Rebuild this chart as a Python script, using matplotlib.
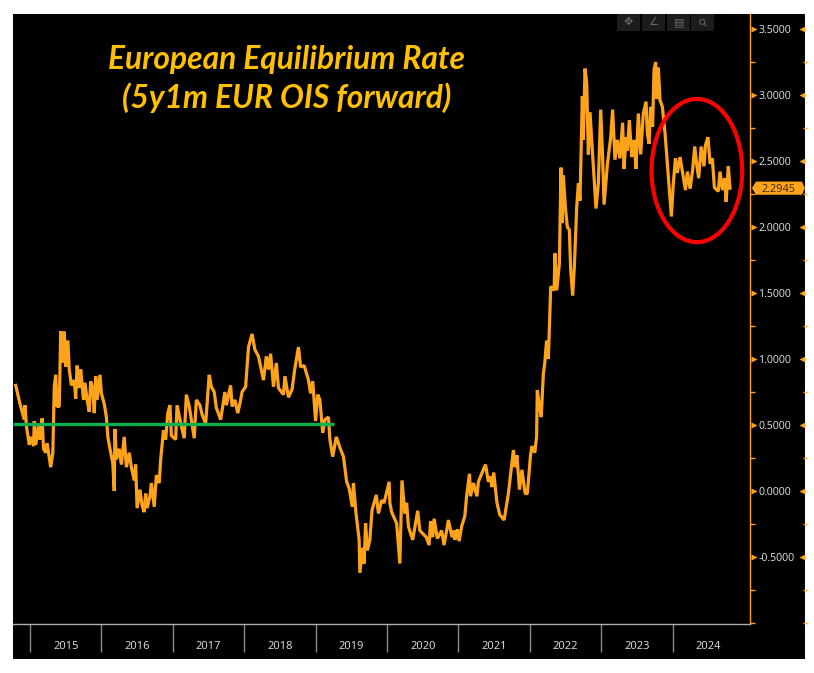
import matplotlib
matplotlib.use("Agg")
import matplotlib.pyplot as plt
from matplotlib.patches import Ellipse, Polygon, Rectangle

W, H = 814, 673
ORANGE = "#FFA31A"

dates = [
 2014.80,2014.86,2014.92,2014.93,2014.95,2014.99,2015.01,2015.05,2015.06,2015.08,2015.12,2015.14,2015.17,2015.19,
 2015.22,2015.24,2015.29,2015.32,2015.34,2015.36,2015.38,2015.41,2015.43,2015.45,2015.48,2015.50,2015.53,2015.55,
 2015.58,2015.62,2015.64,2015.66,2015.69,2015.71,2015.75,2015.77,2015.80,2015.83,2015.85,2015.88,2015.90,2015.92,
 2015.94,2015.98,2016.00,2016.04,2016.07,2016.09,2016.12,2016.16,2016.18,2016.19,2016.21,2016.25,2016.28,2016.32,
 2016.35,2016.39,2016.42,2016.46,2016.48,2016.50,2016.54,2016.57,2016.60,2016.62,2016.64,2016.68,2016.70,2016.74,
 2016.77,2016.81,2016.83,2016.87,2016.90,2016.93,2016.96,2016.98,2017.04,2017.06,2017.10,2017.12,2017.16,2017.19,
 2017.23,2017.26,2017.30,2017.33,2017.38,2017.41,2017.46,2017.51,2017.54,2017.58,2017.61,2017.67,2017.73,2017.75,
 2017.81,2017.83,2017.87,2017.91,2017.95,2017.97,2018.02,2018.06,2018.11,2018.15,2018.20,2018.27,2018.31,2018.34,
 2018.37,2018.41,2018.45,2018.48,2018.55,2018.57,2018.62,2018.67,2018.71,2018.76,2018.79,2018.84,2018.90,2018.93,
 2018.96,2019.00,2019.03,2019.06,2019.10,2019.13,2019.18,2019.20,2019.24,2019.29,2019.34,
 2019.39,2019.435,2019.47,2019.515,2019.53,2019.566,2019.61,2019.62,2019.66,2019.68,2019.70,2019.725,2019.76,2019.79,
 2019.85,2019.88,2019.925,2019.96,2020.03,2020.04,2020.065,2020.135,2020.18,2020.21,2020.25,2020.275,2020.30,2020.36,
 2020.43,2020.46,2020.55,2020.59,2020.61,2020.64,2020.66,2020.705,2020.765,2020.80,2020.86,2020.91,2020.94,2020.95,
 2020.985,2021.01,2021.045,2021.09,2021.115,2021.155,2021.17,2021.21,2021.26,2021.28,2021.34,2021.38,2021.42,2021.45,
 2021.47,2021.495,2021.54,2021.58,2021.64,2021.70,2021.77,2021.795,2021.82,2021.855,2021.89,2021.935,2021.965,2022.01,
 2022.03,2022.07,2022.095,2022.105,2022.13,2022.16,2022.19,2022.21,2022.235,2022.26,
 2022.283,2022.293,2022.34,2022.353,2022.377,2022.414,2022.437,2022.45,2022.47,2022.498,2022.526,2022.554,2022.573,2022.60,
 2022.624,2022.657,2022.68,2022.703,2022.736,2022.75,2022.773,2022.797,2022.82,2022.843,2022.913,2022.927,2022.96,2022.993,
 2023.02,2023.04,2023.086,2023.133,2023.16,2023.193,2023.226,2023.263,2023.30,2023.32,2023.347,2023.366,2023.394,2023.427,
 2023.46,2023.487,2023.52,2023.553,2023.59,2023.628,2023.646,2023.67,2023.693,2023.72,2023.74,2023.763,2023.777,2023.80,
 2023.824,2023.857,2023.894,2023.926,2023.955,2023.983,2024.01,2024.04,2024.066,2024.104,2024.14,2024.18,2024.207,2024.245,
 2024.28,2024.31,2024.336,2024.365,2024.40,2024.44,2024.46,2024.495,2024.525,2024.557,2024.585,2024.64,2024.664,2024.70,
 2024.73,2024.75,2024.78,2024.804,
]
rates = [
 0.80,0.66,0.54,0.65,0.49,0.35,0.41,0.34,0.53,0.35,0.49,0.39,0.55,0.32,
 0.29,0.36,0.18,0.29,0.79,0.88,0.64,0.64,1.21,0.97,1.21,0.94,1.14,0.92,
 0.80,0.84,0.70,0.95,0.78,0.92,0.69,0.82,0.69,0.60,0.83,0.77,0.59,0.87,
 0.69,0.88,0.74,0.66,0.56,0.41,0.32,0.21,0.00,0.47,0.24,0.32,0.20,0.41,
 0.18,0.29,0.18,0.08,0.20,-0.13,0.01,-0.11,-0.16,-0.02,-0.13,-0.04,0.06,-0.12,
 0.12,0.06,0.24,0.46,0.39,0.59,0.65,0.42,0.39,0.65,0.54,0.49,0.40,0.73,
 0.64,0.54,0.40,0.69,0.65,0.58,0.51,0.88,0.79,0.75,0.63,0.54,0.75,0.65,
 0.80,0.64,0.69,0.59,0.69,0.75,0.79,1.09,1.19,1.07,1.02,0.84,1.02,0.92,
 1.04,0.79,0.97,0.78,0.73,0.87,0.71,0.77,0.93,1.09,0.94,0.95,0.84,0.74,
 0.83,0.53,0.73,0.69,0.44,0.54,0.56,0.39,0.26,0.41,0.33,
 0.26,0.07,0.02,-0.12,0.06,-0.17,-0.37,-0.62,-0.43,-0.55,-0.245,-0.45,-0.37,-0.145,
 -0.03,-0.17,-0.07,-0.09,0.07,-0.09,-0.16,-0.245,-0.55,0.08,-0.17,-0.09,-0.27,-0.37,
 -0.15,-0.30,-0.35,-0.41,-0.23,-0.35,-0.21,-0.36,-0.30,-0.41,-0.22,-0.35,-0.30,-0.37,
 -0.29,-0.38,-0.27,-0.19,-0.04,0.13,-0.04,0.06,-0.04,0.07,0.15,0.20,0.07,0.11,
 0.03,0.14,-0.09,-0.18,-0.22,-0.02,0.31,0.18,0.27,0.01,0.16,-0.02,-0.02,0.27,
 0.34,0.29,0.41,0.765,0.66,0.56,0.89,0.97,1.14,1.00,
 1.38,1.55,1.52,1.80,1.52,1.72,2.45,2.03,2.39,2.15,2.00,1.98,1.67,1.48,
 1.70,2.15,2.33,2.20,2.99,2.66,3.20,3.09,2.55,2.87,2.26,2.14,2.33,2.89,
 2.53,2.17,2.47,2.68,2.89,2.51,2.66,2.52,2.79,2.44,2.68,2.58,2.81,2.53,
 2.66,2.44,2.86,2.55,2.86,2.95,2.71,2.63,2.91,2.76,3.19,3.25,2.97,3.21,
 2.96,2.91,2.71,2.48,2.28,2.08,2.33,2.52,2.41,2.53,2.41,2.28,2.42,2.29,
 2.43,2.61,2.48,2.37,2.61,2.46,2.62,2.68,2.48,2.52,2.30,2.27,2.42,2.28,
 2.37,2.19,2.46,2.2945,
]
last_value = 2.2945
year_labels = ["2015","2016","2017","2018","2019","2020","2021","2022","2023","2024"]
year_starts = [2015,2016,2017,2018,2019,2020,2021,2022,2023,2024,2025]
y_major = [-0.5,0.0,0.5,1.0,1.5,2.0,2.5,3.0,3.5]
y_minor = [-1.0,-0.75,-0.25,0.25,0.75,1.25,1.75,2.25,2.75,3.25]
equilibrium = 0.51
title_text = "European Equilibrium Rate\n(5y1m EUR OIS forward)"

def fx(p): return p / W
def fy(p): return 1 - p / H

fig = plt.figure(figsize=(W/100, H/100), dpi=100, facecolor="white")
fig.add_artist(Rectangle((fx(13), fy(659)), 792/W, 645/H, transform=fig.transFigure,
                         facecolor="black", edgecolor="none", zorder=-5))

ax = fig.add_axes([fx(13), fy(623.5), 737/W, 609.5/H], facecolor="black")
ax.set_xlim(2014.762, 2025.084)
ax.set_ylim(-1.004, 3.614)
for s in ("top", "left"):
    ax.spines[s].set_visible(False)
ax.spines["right"].set_color(ORANGE)
ax.spines["right"].set_linewidth(1.0)
ax.spines["bottom"].set_color("#b0b0b0")
ax.spines["bottom"].set_linewidth(1.0)

# price line, level line, highlight ellipse
ax.plot(dates, rates, color=ORANGE, lw=2.3, solid_joinstyle="bevel", zorder=3)
ax.plot([2014.762, 2019.26], [equilibrium, equilibrium], color="#0CB04F", lw=2.4,
        solid_capstyle="butt", zorder=4)
ax.add_patch(Ellipse((2024.34, 2.428), 1.27, 1.085, facecolor="none", edgecolor="#FF0000",
                     lw=3.0, zorder=5, clip_on=False))

# axes
ax.yaxis.tick_right()
ax.set_yticks(y_major)
ax.set_yticklabels([f"{v:.4f}" for v in y_major], fontsize=7.6, color="#e4e4e4", family="Open Sans")
ax.set_yticks(y_minor, minor=True)
ax.tick_params(axis="y", which="major", length=0, pad=6)
ax.tick_params(axis="y", which="minor", length=3.5, color=ORANGE, width=1)
ytr = ax.get_yaxis_transform()
ax.plot([1.0054]*len(y_major), y_major, ">", ms=5, color=ORANGE, mec="none", transform=ytr, clip_on=False)
ax.plot([1.0706]*len(y_major), y_major, "<", ms=5, color=ORANGE, mec="none", transform=ytr, clip_on=False)
ax.plot([1.0745]*len(y_minor), y_minor, "_", ms=3, color=ORANGE, mew=1, transform=ytr, clip_on=False)

ax.set_xticks(year_starts[:-1])
ax.set_xticklabels([])
ax.set_xticks([y + 0.5 for y in year_starts[:-1]], minor=True)
ax.set_xticklabels(year_labels, minor=True, fontsize=8, color="#e4e4e4", family="Open Sans")
ax.tick_params(axis="x", which="major", length=20, color="#8a8a8a", width=1)
ax.tick_params(axis="x", which="minor", length=0, pad=12.5)

# current-value tag
tag_h = 0.05
ax.add_patch(Polygon([(1.0027, last_value), (1.008, last_value+tag_h), (1.0705, last_value+tag_h),
                      (1.0745, last_value), (1.0705, last_value-tag_h), (1.008, last_value-tag_h)],
                     closed=True, transform=ytr, facecolor=ORANGE, edgecolor="none", clip_on=False, zorder=6))
ax.text(1.0385, last_value, f"{last_value:.4f}", transform=ytr, ha="center", va="center_baseline",
        fontsize=7.8, color="#3a2500", family="Open Sans", zorder=7, clip_on=False)

# title
fig.text(fx(287), fy(79), title_text, ha="center", va="center", color="#FFC000",
         fontsize=22.9, fontweight="bold", fontstyle="italic", family="Lato", linespacing=1.33)

# toolbar
for i, left in enumerate([617, 642, 667, 691]):
    fig.add_artist(Rectangle((fx(left), fy(31)), 23/W, 17/H, transform=fig.transFigure,
                             facecolor="#1c1c1c", edgecolor="none"))
ic = "#6a6a6a"
fig.text(fx(628.5), fy(22), "✥", color=ic, fontsize=8, ha="center", va="center", family="DejaVu Sans")
fig.text(fx(653.5), fy(22), "∠", color=ic, fontsize=8, ha="center", va="center", family="DejaVu Sans")
fig.text(fx(679), fy(22), "▤", color=ic, fontsize=8, ha="center", va="center", family="DejaVu Sans")
fig.text(fx(704), fy(22), "⚲", color=ic, fontsize=8, ha="center", va="center", family="DejaVu Sans", rotation=45)

fig.savefig("out.png", dpi=100, facecolor="white")
